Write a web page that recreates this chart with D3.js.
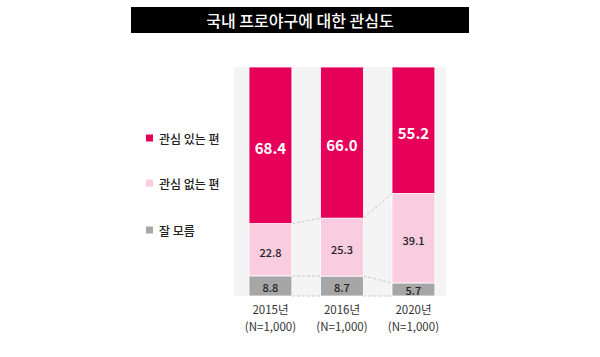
<!DOCTYPE html>
<html><head><meta charset="utf-8">
<script src="https://cdn.jsdelivr.net/npm/d3@7"></script>
<style>body{margin:0;background:#fff}svg{display:block}</style>
</head><body>
<svg id="c" width="600" height="357"></svg>
<script>
const title = "국내 프로야구에 대한 관심도";
const years = ["2015년", "2016년", "2020년"];
const sampleLabels = ["(N=1,000)", "(N=1,000)", "(N=1,000)"];
const seriesNames = ["관심 있는 편", "관심 없는 편", "잘 모름"];
const interested = [68.4, 66.0, 55.2];
const notInterested = [22.8, 25.3, 39.1];
const dontKnow = [8.8, 8.7, 5.7];
const colors = ["#E6005A", "#F9CCE0", "#A6A6A6"];

const svg = d3.select("#c");
const font = "'Noto Sans CJK KR','Noto Sans',sans-serif";

// title
svg.append("rect").attr("x",131).attr("y",7).attr("width",338).attr("height",26).attr("fill","#000");
svg.append("text").attr("x",300).attr("y",20).attr("text-anchor","middle").attr("dominant-baseline","central")
  .attr("fill","#fff").attr("font-family",font).attr("font-size",16).attr("font-weight",500).text(title);

// panel
svg.append("rect").attr("x",234).attr("y",67).attr("width",212).attr("height",229).attr("fill","#F4F4F4");

const x = d3.scaleBand().domain(years).range([234,449.9]).paddingInner(0.4).paddingOuter(0.21);
const y = d3.scaleLinear().domain([0,100]).range([296,67]);

const data = years.map((yr,i)=>({yr, vals:[interested[i], notInterested[i], dontKnow[i]]}));
const stack = data.map(d=>{
  const segs=[]; let base=0;
  [2,1,0].forEach(k=>{ segs.push({k, v:d.vals[k], y0:base, y1:base+d.vals[k], yr:d.yr}); base+=d.vals[k]; });
  return segs;
});

// connectors
const conn = svg.append("g").attr("stroke","#C8C8C8").attr("stroke-width",1).attr("stroke-dasharray","3,2").attr("fill","none");
for(let i=0;i<years.length-1;i++){
  const a=years[i], b=years[i+1];
  const lv=[dontKnow[i]+notInterested[i], dontKnow[i], 0];
  const lvb=[dontKnow[i+1]+notInterested[i+1], dontKnow[i+1], 0];
  lv.forEach((v,j)=>{
    conn.append("line").attr("x1",x(a)+x.bandwidth()).attr("x2",x(b))
      .attr("y1",y(v)).attr("y2",y(lvb[j]));
  });
}

// bars
const g = svg.append("g");
stack.forEach(segs=>{
  segs.forEach(s=>{
    g.append("rect").attr("x",x(s.yr)).attr("width",x.bandwidth())
      .attr("y",y(s.y1)).attr("height",y(s.y0)-y(s.y1))
      .attr("fill",colors[s.k]).attr("stroke","#fff").attr("stroke-width",0.8);
    const cy=(y(s.y0)+y(s.y1))/2;
    g.append("text").attr("x",x(s.yr)+x.bandwidth()/2).attr("y",cy+(s.k===2?1:2))
      .attr("text-anchor","middle").attr("dominant-baseline","central")
      .attr("font-family",font)
      .attr("font-size",s.k===0?15:11)
      .attr("font-weight",s.k===0?700:500)
      .attr("fill",s.k===0?"#fff":"#222")
      .text(s.v.toFixed(1));
  });
});

// x labels
years.forEach((yr,i)=>{
  const cx=x(yr)+x.bandwidth()/2;
  svg.append("text").attr("x",cx).attr("y",309).attr("text-anchor","middle").attr("dominant-baseline","central")
    .attr("font-family",font).attr("font-size",11.5).attr("fill","#333").text(yr);
  svg.append("text").attr("x",cx).attr("y",326).attr("text-anchor","middle").attr("dominant-baseline","central")
    .attr("font-family",font).attr("font-size",11.5).attr("fill","#333").text(sampleLabels[i]);
});

// legend
const ly=[138,183,230];
seriesNames.forEach((n,i)=>{
  svg.append("rect").attr("x",146).attr("y",ly[i]-3.5).attr("width",7).attr("height",7).attr("fill",colors[i]);
  svg.append("text").attr("x",159).attr("y",ly[i]).attr("dominant-baseline","central")
    .attr("font-family",font).attr("font-size",12).attr("font-weight",500).attr("fill","#222").text(n);
});
</script>
</body></html>
